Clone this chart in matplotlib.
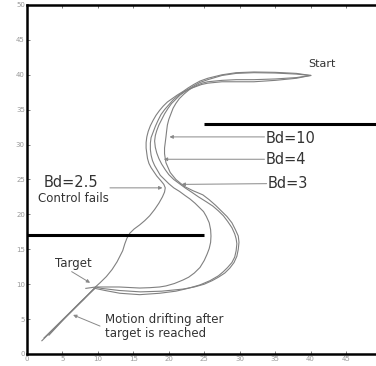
import matplotlib
matplotlib.use('Agg')
import matplotlib.pyplot as plt

plt.rcParams['font.family'] = ['DejaVu Sans']

# trajectories (x, y)
bd25_x = [40.0, 38.0, 35.0, 32.0, 29.5, 27.5, 25.5, 24.4, 23.5, 22.7, 22.0, 21.2, 20.5, 19.8, 19.2, 18.7,
          18.2, 17.8, 17.4, 17.1, 16.9, 16.8, 16.8, 16.9, 17.0, 17.2, 17.5, 17.9, 18.3, 18.9, 19.3, 19.5,
          19.4, 19.1, 18.6, 18.0, 17.3, 16.6, 15.9, 15.1, 14.5, 14.1, 13.8, 13.5, 13.1, 12.7, 12.0, 11.2,
          10.3, 9.7, 8.0, 6.0, 4.0, 2.1]
bd25_y = [39.9, 40.2, 40.35, 40.4, 40.3, 40.0, 39.5, 39.1, 38.6, 38.1, 37.6, 37.1, 36.6, 36.1, 35.5, 34.9,
          34.2, 33.5, 32.7, 31.9, 31.1, 30.3, 29.5, 28.7, 28.0, 27.3, 26.7, 26.1, 25.5, 24.8, 24.3, 23.8,
          23.2, 22.5, 21.6, 20.7, 19.8, 19.1, 18.5, 17.9, 17.3, 16.6, 15.8, 14.8, 14.0, 13.2, 12.1, 11.1,
          10.2, 9.65, 7.8, 5.8, 3.8, 1.9]

bd4_x = [40.0, 38.0, 35.0, 32.0, 29.5, 27.5, 25.5, 24.4, 23.5, 22.7, 22.0, 21.3, 20.6, 20.0, 19.4, 18.9,
         18.5, 18.1, 17.8, 17.5, 17.4, 17.4, 17.5, 17.7, 18.0, 18.4, 18.8, 19.4, 20.0, 20.7, 21.5, 22.3,
         23.0, 23.7, 24.3, 24.9, 25.3, 25.7, 25.9, 25.95, 25.9, 25.7, 25.4, 25.0, 24.4, 23.6, 22.8, 22.0,
         20.8, 19.6, 18.7, 17.3, 15.9, 13.0, 11.0, 9.7, 8.3]
bd4_y = [39.9, 40.1, 40.25, 40.3, 40.2, 39.9, 39.3, 38.9, 38.4, 37.9, 37.5, 37.0, 36.4, 35.7, 35.0, 34.3,
         33.5, 32.6, 31.8, 31.0, 30.2, 29.3, 28.5, 27.7, 27.0, 26.3, 25.6, 25.0, 24.4, 23.8, 23.3, 22.7,
         22.2, 21.6, 21.0, 20.4, 19.7, 18.8, 17.8, 16.9, 16.0, 15.1, 14.3, 13.4, 12.4, 11.6, 11.0, 10.6,
         10.1, 9.75, 9.6, 9.5, 9.45, 9.6, 9.6, 9.6, 9.4]

bd3_x = [40.0, 38.0, 35.0, 32.0, 29.5, 27.5, 25.5, 24.6, 23.8, 23.0, 22.3, 21.6, 21.0, 20.4, 19.9, 19.4,
         19.0, 18.6, 18.3, 18.1, 18.0, 18.1, 18.3, 18.6, 19.0, 19.5, 20.0, 20.7, 21.5, 22.3, 23.2, 24.2,
         25.3, 26.2, 27.0, 27.7, 28.3, 28.9, 29.3, 29.5, 29.6, 29.5, 29.3, 28.9, 28.3, 27.7, 27.0, 25.8,
         24.4, 22.7, 21.0, 18.7, 15.9, 13.1, 11.0, 9.6, 7.5, 5.3, 3.1]
bd3_y = [39.9, 39.5, 39.2, 39.0, 39.0, 39.0, 38.8, 38.6, 38.3, 38.0, 37.6, 37.1, 36.5, 35.9, 35.2, 34.4,
         33.6, 32.8, 32.0, 31.3, 30.5, 29.6, 28.8, 28.0, 27.2, 26.4, 25.7, 25.0, 24.4, 23.8, 23.2, 22.5,
         21.8, 21.2, 20.5, 19.8, 19.0, 18.1, 17.2, 16.5, 15.8, 14.8, 13.9, 13.1, 12.4, 11.8, 11.2, 10.5,
         9.9, 9.4, 9.0, 8.7, 8.5, 8.7, 9.1, 9.4, 7.4, 5.1, 2.7]

bd10_x = [40.0, 38.0, 35.0, 32.0, 29.5, 27.5, 25.5, 24.7, 24.0, 23.4, 22.8, 22.1, 21.5, 21.0, 20.6, 20.3,
          20.0, 19.8, 19.7, 19.6, 19.5, 19.4, 19.4, 19.5, 19.6, 19.9, 20.2, 20.6, 21.0, 21.6, 22.2, 23.4,
          24.8, 25.7, 26.6, 27.4, 28.2, 28.9, 29.4, 29.8, 29.9, 29.8, 29.6, 29.2, 28.6, 27.9, 27.0, 26.1,
          25.0, 23.6, 22.0, 19.0, 16.0, 13.0, 10.5, 9.7, 8.0, 6.0, 4.0, 2.4]
bd10_y = [39.9, 39.6, 39.4, 39.3, 39.3, 39.2, 39.0, 38.8, 38.5, 38.2, 37.8, 37.2, 36.6, 35.9, 35.2, 34.4,
          33.6, 32.8, 32.0, 31.1, 30.3, 29.5, 28.7, 28.0, 27.4, 26.7, 26.0, 25.5, 25.0, 24.5, 24.0, 23.4,
          22.8, 22.1, 21.3, 20.5, 19.7, 18.8, 17.8, 16.9, 16.0, 15.0, 14.0, 13.1, 12.3, 11.6, 11.0, 10.5,
          10.0, 9.6, 9.3, 9.0, 8.9, 9.1, 9.4, 9.6, 7.9, 5.9, 3.9, 2.3]

# thick horizontal bars
bar_y = [17, 33]
bar_x0 = [0, 25]
bar_x1 = [25, 50]

fig = plt.figure(figsize=(3.76, 3.66), dpi=100)
ax = fig.add_axes([0.0718, 0.0328, 0.9428, 0.9536])

for xs, ys in [(bd25_x, bd25_y), (bd4_x, bd4_y), (bd3_x, bd3_y), (bd10_x, bd10_y)]:
    ax.plot(xs, ys, color='#808080', lw=0.8)

for y, x0, x1 in zip(bar_y, bar_x0, bar_x1):
    ax.plot([x0, x1], [y, y], color='black', lw=2.2, solid_capstyle='butt')

arrow = dict(arrowstyle='-|>', color='#888888', lw=0.7, mutation_scale=5,
             shrinkA=0, shrinkB=0)

ax.annotate('', xy=(20.1, 31.1), xytext=(33.5, 31.1), arrowprops=arrow)
ax.annotate('', xy=(19.3, 27.9), xytext=(33.5, 27.9), arrowprops=arrow)
ax.annotate('', xy=(21.8, 24.3), xytext=(33.8, 24.4), arrowprops=arrow)
ax.annotate('', xy=(19.1, 23.8), xytext=(11.7, 23.8), arrowprops=arrow)
ax.annotate('', xy=(8.9, 10.2), xytext=(6.3, 11.8), arrowprops=arrow)
ax.annotate('', xy=(6.5, 5.6), xytext=(10.3, 4.0), arrowprops=arrow)

txt = '#333333'
ax.text(33.7, 30.9, 'Bd=10', fontsize=10.5, color=txt, va='center')
ax.text(33.7, 27.8, 'Bd=4', fontsize=10.5, color=txt, va='center')
ax.text(34.0, 24.4, 'Bd=3', fontsize=10.5, color=txt, va='center')
ax.text(2.3, 24.6, 'Bd=2.5', fontsize=10.5, color=txt, va='center')
ax.text(1.6, 22.3, 'Control fails', fontsize=8.5, color=txt, va='center')
ax.text(3.9, 12.9, 'Target', fontsize=8.5, color=txt, va='center')
ax.text(11.0, 5.0, 'Motion drifting after', fontsize=8.5, color=txt, va='center')
ax.text(11.0, 3.0, 'target is reached', fontsize=8.5, color=txt, va='center')
ax.text(39.6, 41.5, 'Start', fontsize=8, color=txt, va='center')

ax.set_xlim(0, 50)
ax.set_ylim(0, 50)
ax.set_xticks(range(0, 50, 5))
ax.set_yticks(range(0, 51, 5))
ax.tick_params(direction='in', length=2.5, width=0.6, labelsize=5,
               labelcolor='#999999', color='#666666', pad=1.5, top=True)
for s in ['left', 'bottom', 'top']:
    ax.spines[s].set_linewidth(1.8)
ax.spines['right'].set_visible(False)

fig.savefig('out.png', dpi=100)
